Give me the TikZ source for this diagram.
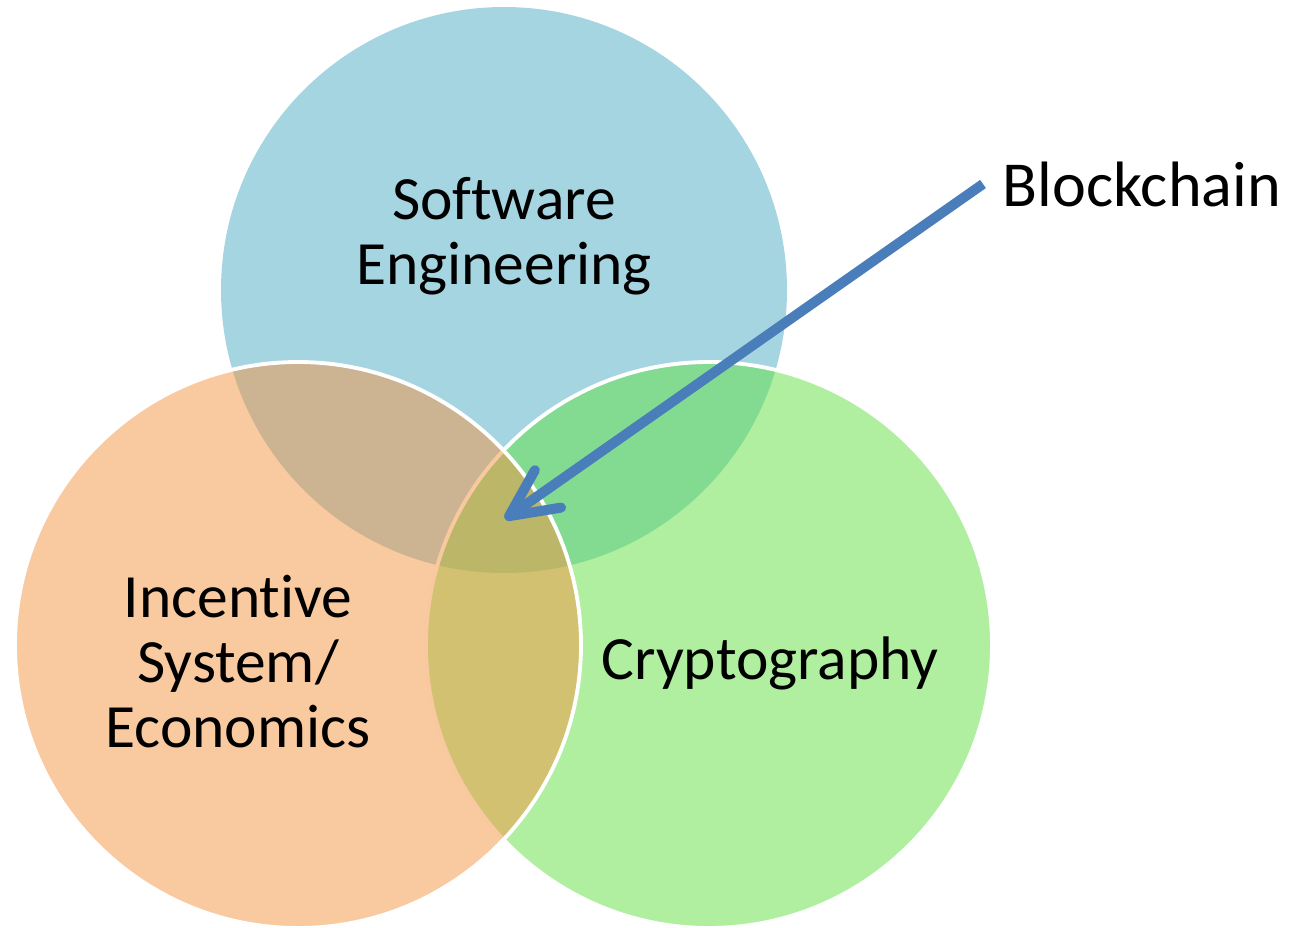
\documentclass[tikz,border=0pt]{standalone}
\usepackage{fontspec}
\setmainfont{Carlito}[Ligatures=CommonOff]
\usetikzlibrary{arrows.meta}

\definecolor{swblue}{RGB}{166,213,226}
\definecolor{ecoorange}{RGB}{243,147,65}
\definecolor{cryptogreen}{RGB}{97,223,65}
\definecolor{arrowblue}{RGB}{74,126,187}

\begin{document}
\begin{tikzpicture}[x=0.02cm, y=-0.02cm,
    venn/.style={draw=white, line width=2.2pt, fill opacity=0.5},
    fieldlabel/.style={align=center, font=\fontsize{35}{37}\selectfont}]
    \useasboundingbox (0,0) rectangle (1292,927);

    % the three fields
    \fill[swblue] (504,290) circle (283);
    \filldraw[venn, fill=cryptogreen] (709,645) circle (283);
    \filldraw[venn, fill=ecoorange] (298,645) circle (283);

    \node[fieldlabel] (software) at (504,236) {Software\\Engineering};
    \node[fieldlabel] (economics) at (238,662) {Incentive\\System/\\Economics};
    \node[fieldlabel] (crypto) at (770,663) {Cryptography};

    % pointer to the common core
    \coordinate (core) at (505,519);
    \node[font=\fontsize{36.5}{40}\selectfont, anchor=west, inner xsep=11pt] (chain) at (983,184) {Blockchain};
    \draw[arrowblue, line width=5.7pt, -{Straight Barb[length=27pt, width=26pt, line width=5.7pt, round]}] (chain.west) -- (core);
\end{tikzpicture}
\end{document}
